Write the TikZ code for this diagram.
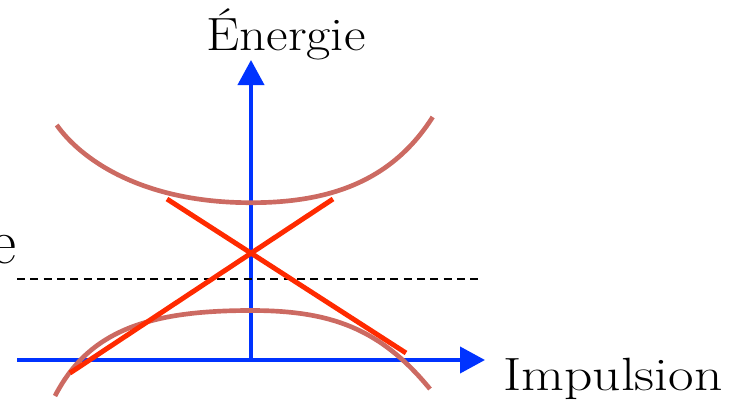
\documentclass[tikz,border=0pt]{standalone}
\usetikzlibrary{arrows.meta}
\definecolor{axisblue}{RGB}{0,51,255}
\definecolor{linered}{RGB}{255,42,0}
\definecolor{bandbrown}{RGB}{204,106,98}
\begin{document}
\begin{tikzpicture}[x=0.75pt,y=-0.75pt,
  axis/.style={draw=axisblue,line width=3pt,-{Triangle[length=18.75pt,width=19.5pt]}},
  cone/.style={draw=linered,line width=3.7pt},
  band/.style={draw=bandbrown,line width=3.5pt},
  fermi/.style={draw=black,line width=1.1pt,dash pattern=on 6pt off 4pt},
  lab/.style={inner sep=0pt,font=\fontsize{35}{40}\selectfont}]
\useasboundingbox (0,0) rectangle (740,404);
% axes
\coordinate (o) at (251,360);
\coordinate (ytip) at (251,60);
\coordinate (xstart) at (17,360);
\coordinate (xtip) at (485,360);
\draw[axis] (o) -- (ytip);
\draw[axis] (xstart) -- (xtip);
% dashed level
\coordinate (d1) at (17,279);
\coordinate (d2) at (483,279);
\draw[fermi] (d1) -- (d2);
% lower band
\coordinate (l0) at (55,396);
\coordinate (lm) at (251,310.5);
\coordinate (l1) at (430,389);
\draw[band] (l0) .. controls (89,330) and (150,310.5) .. (lm)
                 .. controls (330,310.5) and (380,328) .. (l1);
% cone lines
\coordinate (a1) at (167,199);
\coordinate (a2) at (406,353);
\coordinate (b1) at (333,199);
\coordinate (b2) at (70,373);
\draw[cone] (a1) -- (a2);
\draw[cone] (b1) -- (b2);
% upper band
\coordinate (u0) at (56.7,125);
\coordinate (um) at (251,202.7);
\coordinate (u1) at (432.7,117);
\draw[band] (u0) .. controls (80,158) and (140,202.7) .. (um)
                 .. controls (330,202.7) and (392,181) .. (u1);
% labels
\node[lab,anchor=base] (energie) at (286,50) {\scalebox{1.13}[1]{Énergie}};
\node[lab,anchor=base west] (impulsion) at (503,390) {\scalebox{1.19}[1]{Impulsion}};
\node[inner sep=0pt,anchor=base east,font=\fontsize{48}{52}\selectfont] (niveau) at (17,263) {e};
\end{tikzpicture}
\end{document}
